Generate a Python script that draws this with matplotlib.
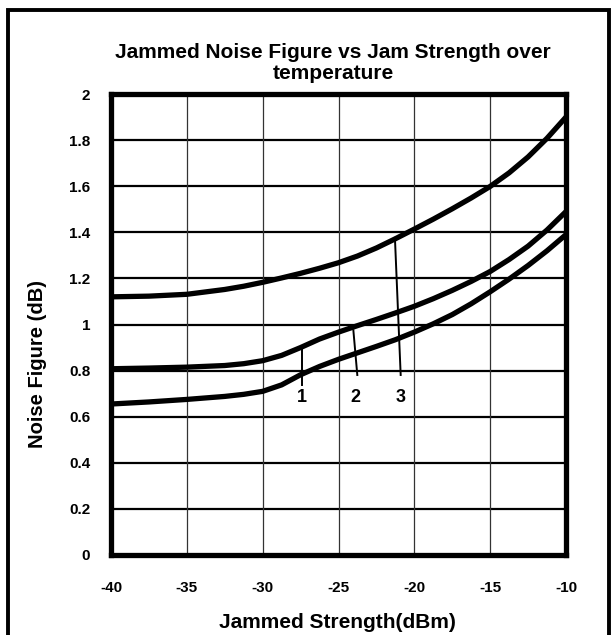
import matplotlib
matplotlib.use("Agg")
import matplotlib.pyplot as plt
from matplotlib.patches import Rectangle

plt.rcParams['font.family'] = ['Liberation Sans', 'DejaVu Sans']
plt.rcParams['font.weight'] = 'bold'

# jam strength (dBm) and noise figure (dB)
jam = [-40, -37.5, -35, -32.5, -31.25, -30, -28.75, -27.5, -26.25, -25, -23.75,
       -22.5, -21.25, -20, -18.75, -17.5, -16.25, -15, -13.75, -12.5, -11.25, -10]
nf_top = [1.12, 1.123, 1.131, 1.152, 1.166, 1.183, 1.202, 1.222, 1.244, 1.268, 1.297,
          1.332, 1.372, 1.414, 1.457, 1.502, 1.549, 1.599, 1.658, 1.727, 1.808, 1.90]
nf_mid = [0.808, 0.811, 0.815, 0.822, 0.83, 0.843, 0.866, 0.90, 0.937, 0.967, 0.995,
          1.022, 1.05, 1.079, 1.112, 1.148, 1.187, 1.23, 1.282, 1.34, 1.41, 1.49]
nf_low = [0.655, 0.664, 0.675, 0.688, 0.697, 0.71, 0.738, 0.782, 0.818, 0.849, 0.877,
          0.905, 0.934, 0.967, 1.003, 1.043, 1.09, 1.142, 1.197, 1.256, 1.32, 1.39]

# leader lines and the numbers under them
labels = ['1', '2', '3']
lead_x0 = [-27.38, -24.02, -21.28]
lead_y0 = [0.895, 0.975, 1.376]
lead_x1 = [-27.38, -23.76, -20.9]
lead_y1 = [0.737, 0.781, 0.781]
lab_x = [-27.42, -23.86, -20.92]
lab_y = [0.685, 0.685, 0.685]

xticks = [-40, -35, -30, -25, -20, -15, -10]
yticks = [0, 0.2, 0.4, 0.6, 0.8, 1, 1.2, 1.4, 1.6, 1.8, 2]
ytick_labels = ['0', '0.2', '0.4', '0.6', '0.8', '1', '1.2', '1.4', '1.6', '1.8', '2']

W, H = 615, 635
fig = plt.figure(figsize=(W / 100, H / 100), dpi=100)
ax = fig.add_axes([111 / W, 1 - 555 / H, (566 - 111) / W, (555 - 94) / H])

for y in yticks[1:-1]:
    ax.axhline(y, color='black', lw=1.6, zorder=1)
for x in xticks[1:-1]:
    ax.axvline(x, color='#333333', lw=0.9, zorder=1)

for series in (nf_top, nf_mid, nf_low):
    ax.plot(jam, series, color='black', lw=3.8, solid_capstyle='butt',
            solid_joinstyle='round', zorder=3)

for i in range(len(labels)):
    ax.plot([lead_x0[i], lead_x1[i]], [lead_y0[i], lead_y1[i]], color='black', lw=1.4, zorder=4)
    ax.text(lab_x[i], lab_y[i], labels[i], ha='center', va='center', fontsize=13, fontweight='bold')

ax.set_xlim(-40, -10)
ax.set_ylim(0, 2)
ax.set_xticks(xticks)
ax.set_xticklabels([str(t) for t in xticks])
ax.set_yticks(yticks)
ax.set_yticklabels(ytick_labels)
ax.tick_params(axis='both', length=0, labelsize=11)
ax.tick_params(axis='x', pad=19)
ax.tick_params(axis='y', pad=15)
for s in ax.spines.values():
    s.set_linewidth(3.8)
    s.set_zorder(5)

fig.text(333 / W, 1 - 43 / H, 'Jammed Noise Figure vs Jam Strength over\ntemperature',
         ha='center', va='top', fontsize=15, fontweight='bold', linespacing=1.12)
fig.text(337 / W, 1 - 622 / H, 'Jammed Strength(dBm)', ha='center', va='center',
         fontsize=15, fontweight='bold')
fig.text(38 / W, 1 - 364 / H, 'Noise Figure (dB)', ha='center', va='center',
         rotation=90, fontsize=14.5, fontweight='bold')

# outer frame, open at the bottom edge
fig.patches.append(Rectangle((8 / W, -0.05), (609 - 8) / W, 1.05 - 10 / H,
                             transform=fig.transFigure, fill=False, lw=2.8, ec='black'))

fig.savefig('out.png', dpi=100, facecolor='white')
